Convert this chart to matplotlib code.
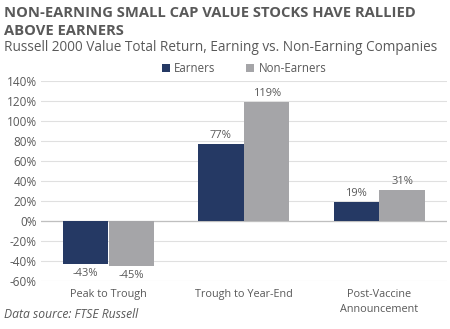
import matplotlib.pyplot as plt
import numpy as np

categories = ["Peak to Trough", "Trough to Year-End", "Post-Vaccine\nAnnouncement"]
earners = [-43, 77, 19]
non_earners = [-45, 119, 31]
series_names = ["Earners", "Non-Earners"]
yticks = [-60, -40, -20, 0, 20, 40, 60, 80, 100, 120, 140]

NAVY = "#253964"
GRAY = "#A5A5A8"
TEXT = "#595959"

plt.rcParams['font.family'] = ['Open Sans', 'DejaVu Sans']

fig = plt.figure(figsize=(4.5, 3.29), dpi=100)
ax = fig.add_axes([0.091, 0.146, 0.902, 0.608])

x = np.arange(len(categories))
w = 0.335
b1 = ax.bar(x - w / 2 - 0.002, earners, w, color=NAVY, label=series_names[0], zorder=3)
b2 = ax.bar(x + w / 2 + 0.002, non_earners, w, color=GRAY, label=series_names[1], zorder=3)

for bars, vals in ((b1, earners), (b2, non_earners)):
    for bar, v in zip(bars, vals):
        cx = bar.get_x() + bar.get_width() / 2
        if v >= 0:
            ax.text(cx, v + 3, f"{v}%", ha='center', va='bottom', fontsize=8, color=TEXT)
        else:
            ax.text(cx, v - 4, f"{v}%", ha='center', va='top', fontsize=8, color=TEXT)

ax.set_xlim(-0.5, 2.5)
ax.set_ylim(-60, 140)
ax.set_yticks(yticks)
ax.set_yticklabels([f"{t}%" for t in yticks])
ax.set_xticks(x)
ax.set_xticklabels(categories, linespacing=1.5)
ax.tick_params(axis='x', length=0, labelsize=7.8, colors=TEXT, pad=6)
ax.tick_params(axis='y', length=0, labelsize=8.5, colors=TEXT, pad=3)
ax.grid(axis='y', color="#E0E0E0", linewidth=0.8, zorder=0)
ax.axhline(0, color="#BFBFBF", linewidth=0.9, zorder=2)
for s in ax.spines.values():
    s.set_visible(False)

ax.legend(loc='lower center', bbox_to_anchor=(0.5, 1.0), ncol=2, frameon=False,
          fontsize=8.3, labelcolor=TEXT, handlelength=0.7, handleheight=0.7,
          handletextpad=0.4, columnspacing=2.6, borderaxespad=0.1)

fig.text(0.009, 0.96, "NON-EARNING SMALL CAP VALUE STOCKS HAVE RALLIED",
         fontsize=10.6, fontweight='bold', color=TEXT, va='center')
fig.text(0.009, 0.906, "ABOVE EARNERS",
         fontsize=10.6, fontweight='bold', color=TEXT, va='center')
fig.text(0.009, 0.857, "Russell 2000 Value Total Return, Earning vs. Non-Earning Companies",
         fontsize=9.8, color=TEXT, va='center')
fig.text(0.009, 0.043, "Data source: FTSE Russell",
         fontsize=8.7, style='italic', color=TEXT, va='center')

fig.savefig("out.png", dpi=100)
